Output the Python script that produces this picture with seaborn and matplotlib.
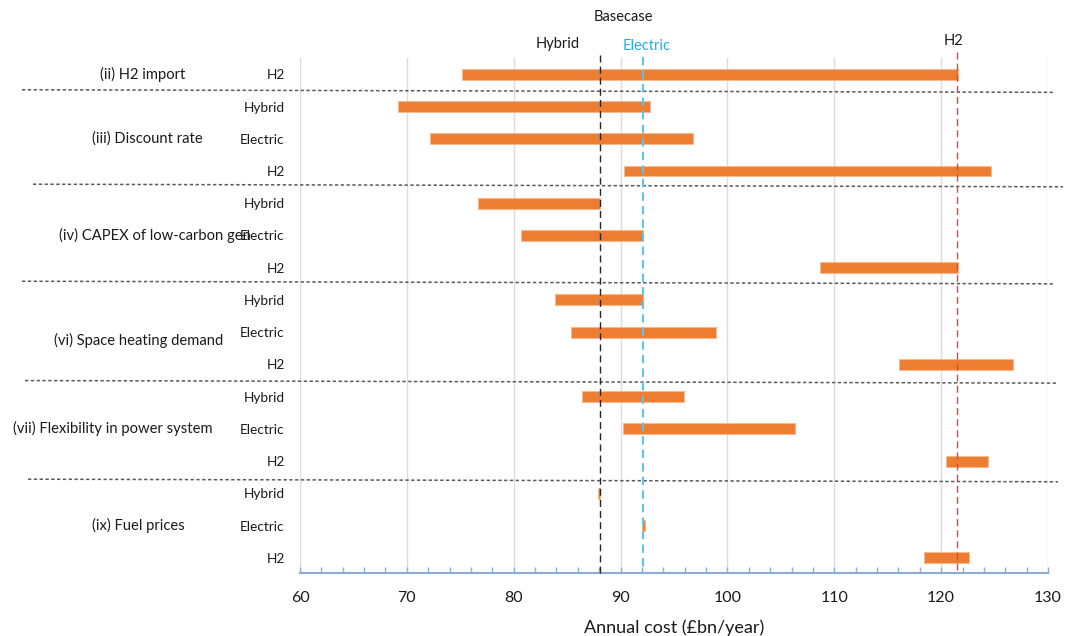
import numpy as np
import pandas as pd
import matplotlib
matplotlib.use("Agg")
import matplotlib.pyplot as plt
import matplotlib.transforms as mtransforms
import seaborn as sns

# ---- data -------------------------------------------------------------
sensitivities = [
    "(ii) H2 import",
    "(iii) Discount rate",
    "(iv) CAPEX of low-carbon gen",
    "(vi) Space heating demand",
    "(vii) Flexibility in power system",
    "(ix) Fuel prices",
]
group_sizes = [1, 3, 3, 3, 3, 3]
technologies = [
    "H2",
    "Hybrid", "Electric", "H2",
    "Hybrid", "Electric", "H2",
    "Hybrid", "Electric", "H2",
    "Hybrid", "Electric", "H2",
    "Hybrid", "Electric", "H2",
]
cost_low = [
    75.2,
    69.2, 72.2, 90.3,
    76.7, 80.7, 108.7,
    83.9, 85.4, 116.1,
    86.4, 90.2, 120.5,
    87.9, 92.0, 118.4,
]
cost_high = [
    121.6,
    92.8, 96.8, 124.7,
    88.1, 92.1, 121.6,
    92.1, 98.9, 126.7,
    95.9, 106.3, 124.4,
    88.1, 92.3, 122.6,
]
basecase_names = ["Hybrid", "Electric", "H2"]
basecase_cost = [88.1, 92.1, 121.5]
x_ticks = list(range(60, 131, 10))

# ---- style ------------------------------------------------------------
sns.set_theme(style="white")
plt.rcParams["font.family"] = ["Lato", "DejaVu Sans"]
TEXT = "#1a1a1a"
ORANGE = "#ed7d31"
AXIS_BLUE = "#8eaadb"

W, H = 1067, 636
fig = plt.figure(figsize=(W / 100, H / 100), dpi=100)
ax = fig.add_axes([300 / W, 1 - 573 / H, 748 / W, 515 / H])

n = len(technologies)
low = np.array(cost_low)
high = np.array(cost_high)
df = pd.DataFrame({
    "row": [f"r{i}" for i in range(n)],
    "span": high - low,
})

# floating bars: length = high - low, starting at low
sns.barplot(data=df, x="span", y="row", orient="h", left=low,
            width=0.34, color=ORANGE, saturation=1, errorbar=None,
            edgecolor="#f6b990", linewidth=0.8, ax=ax)

ax.set_xlim(60, 130)
ax.set_ylim(15.47, -0.505)

# axes cosmetics
ax.set_xticks(x_ticks)
ax.set_xticks(np.arange(62, 130, 2), minor=True)
ax.xaxis.grid(True, which="major", color="#dcdcdc", lw=1)
ax.set_axisbelow(True)
for s in ["left", "top", "right"]:
    ax.spines[s].set_visible(False)
ax.spines["bottom"].set_color(AXIS_BLUE)
ax.spines["bottom"].set_linewidth(1.5)
ax.tick_params(axis="x", which="both", bottom=True, direction="in",
               length=4, width=1, color=AXIS_BLUE, labelsize=11.5,
               labelcolor=TEXT, pad=13)
ax.set_yticks(range(n))
ax.set_yticklabels(technologies)
ax.tick_params(axis="y", left=False, length=0, pad=11, labelsize=9.8,
               labelcolor=TEXT)
ax.set_xlabel("Annual cost (£bn/year)", fontsize=13, color=TEXT, labelpad=10)
ax.set_ylabel("")

# basecase reference lines
line_styles = {
    "Hybrid": dict(color="#262626", lw=1.0, dashes=(5, 3), top=-0.6),
    "Electric": dict(color="#5bc5ef", lw=1.5, dashes=(4, 2.5), top=-0.55),
    "H2": dict(color="#e0463c", lw=1.0, dashes=(5, 3), top=-0.7),
}
for name, val in zip(basecase_names, basecase_cost):
    st = line_styles[name]
    ax.plot([val, val], [st["top"], 15.47], color=st["color"], lw=st["lw"],
            dashes=st["dashes"], clip_on=False, zorder=4)

tx = mtransforms.blended_transform_factory(ax.transData, fig.transFigure)
base = dict(zip(basecase_names, basecase_cost))
ax.text((base["Hybrid"] + base["Electric"]) / 2 + 0.2, 1 - 17 / H, "Basecase",
        transform=tx, ha="center", va="center", fontsize=10.5, color=TEXT)
ax.text(base["Hybrid"] - 1.9, 1 - 44 / H, "Hybrid", transform=tx,
        ha="right", va="center", fontsize=10.5, color=TEXT)
ax.text(base["Electric"] + 0.3, 1 - 46 / H, "Electric", transform=tx,
        ha="center", va="center", fontsize=10.5, color="#1eaee8")
ax.text(base["H2"] - 0.3, 1 - 41 / H, "H2", transform=tx,
        ha="center", va="center", fontsize=10.5, color=TEXT)

# sensitivity group labels and dotted separators
ty = mtransforms.blended_transform_factory(fig.transFigure, ax.transData)
label_x = [143, 147, 155, 139, 113, 138]
label_dy = [0.0, 0.0, 0.0, 0.27, 0.0, 0.0]
start = 0
for i, (name, size) in enumerate(zip(sensitivities, group_sizes)):
    mid = start + (size - 1) / 2
    ax.text(label_x[i] / W, mid + label_dy[i], name, transform=ty,
            ha="center", va="center", fontsize=10.6, color=TEXT, zorder=5)
    start += size

sep_rows = [0.48, 3.41, 6.42, 9.5, 12.56]
sep_x = [(22, 1053), (33, 1063), (22, 1053), (25, 1056), (28, 1058)]
for yr, (x0, x1) in zip(sep_rows, sep_x):
    ax.plot([x0 / W, x1 / W], [yr, yr + 0.08], transform=ty, color="#5a5a5a",
            lw=1.1, dashes=(2.2, 1.6), clip_on=False, zorder=3)

fig.savefig("out.png", dpi=100)
